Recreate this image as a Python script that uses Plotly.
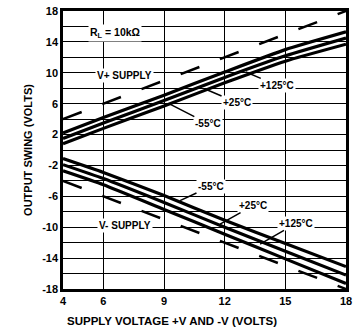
import plotly.graph_objects as go

# Supply voltage (V) at which the curves are sampled
supply = [4, 6, 9, 12, 15, 18]

# Positive output swing (V+ supply), R_L = 10 kOhm
pos_125 = [2.2, 4.2, 7.1, 10.1, 13.0, 15.3]
pos_25 = [1.5, 3.5, 6.4, 9.4, 12.2, 14.5]
pos_m55 = [0.8, 2.8, 5.7, 8.7, 11.5, 13.7]

# Negative output swing (V- supply)
neg_m55 = [-1.1, -2.9, -5.9, -9.1, -12.1, -15.1]
neg_25 = [-1.9, -3.7, -6.8, -10.0, -13.1, -16.2]
neg_125 = [-2.7, -4.5, -7.7, -10.9, -14.1, -17.3]

# Ideal swing reference (equal to the supply rails)
ideal_x = [4, 18]
ideal_pos = [4, 18]
ideal_neg = [-4, -18]

x_ticks = [4, 6, 9, 12, 15, 18]
y_ticks = [-18, -14, -10, -6, -2, 2, 6, 10, 14, 18]
y_grid = list(range(-18, 19, 2))

FONT = "Liberation Sans, Arial, sans-serif"

fig = go.Figure()

for ys in (ideal_pos, ideal_neg):
    fig.add_trace(go.Scatter(x=ideal_x, y=ys, mode="lines",
                             line=dict(color="black", width=2.5, dash="20px,22px")))

for ys in (pos_125, pos_25, pos_m55, neg_m55, neg_25, neg_125):
    fig.add_trace(go.Scatter(x=supply, y=ys, mode="lines",
                             line=dict(color="black", width=3.2, shape="spline", smoothing=0.5)))

lbl_font = dict(family=FONT, size=10, color="black")
bold = lambda s: "<b>" + s + "</b>"

annotations = [
    dict(x=6.57, y=15.2, text=bold("R<sub>L</sub> = 10kΩ"), showarrow=False,
         bgcolor="white", font=dict(family=FONT, size=10.5, color="black")),
    dict(x=7.02, y=9.63, text=bold("V+ SUPPLY"), showarrow=False,
         bgcolor="white", font=lbl_font),
    dict(x=7.07, y=-9.75, text=bold("V- SUPPLY"), showarrow=False,
         bgcolor="white", font=lbl_font),
    # x-axis title, set slightly left of the plot centre
    dict(xref="paper", yref="paper", x=0.385, y=-0.116, yanchor="middle",
         text=bold("SUPPLY VOLTAGE +V AND -V (VOLTS)"), showarrow=False,
         font=dict(family=FONT, size=11.5, color="black")),
]

# Temperature labels with leaders: (text, head x, head y, text x, text y)
temps = [
    ("+125°C", 13.05, 10.1, 14.59, 8.37),
    ("+25°C", 11.03, 7.9, 12.61, 6.15),
    ("-55°C", 9.29, 5.95, 11.17, 3.42),
    ("-55°C", 9.79, -6.55, 11.32, -4.69),
    ("+25°C", 11.77, -9.6, 13.40, -7.2),
    ("+125°C", 13.75, -12.2, 15.53, -9.5),
]
for t, hx, hy, tx, ty in temps:
    annotations.append(dict(x=hx, y=hy, ax=tx, ay=ty, axref="x", ayref="y",
                            text=bold(t), showarrow=True, arrowhead=0,
                            arrowwidth=1.5, arrowcolor="black",
                            bgcolor="white", font=lbl_font))

fig.update_layout(
    width=359, height=335,
    margin=dict(l=63, r=13, t=5, b=46),
    paper_bgcolor="white", plot_bgcolor="white",
    showlegend=False,
    annotations=annotations,
    xaxis=dict(range=[4, 18], tickvals=x_ticks, ticktext=[bold(str(v)) for v in x_ticks],
               showgrid=True, gridcolor="black", gridwidth=1.2,
               showline=True, linecolor="black", linewidth=2.5, mirror=True,
               ticks="", zeroline=False,
               tickfont=dict(family=FONT, size=11, color="black")),
    yaxis=dict(range=[-18, 18], tickvals=y_ticks, ticktext=[bold(str(v)) for v in y_ticks],
               showgrid=True, gridcolor="black", gridwidth=1.2,
               minor=dict(tickvals=y_grid, showgrid=True, gridcolor="black", gridwidth=1.2),
               showline=True, linecolor="black", linewidth=2.5, mirror=True,
               ticks="", zeroline=False,
               tickfont=dict(family=FONT, size=11, color="black"),
               title=dict(text=bold("OUTPUT SWING (VOLTS)"),
                          font=dict(family=FONT, size=11, color="black"), standoff=8)),
)

fig.write_html("out.html")
